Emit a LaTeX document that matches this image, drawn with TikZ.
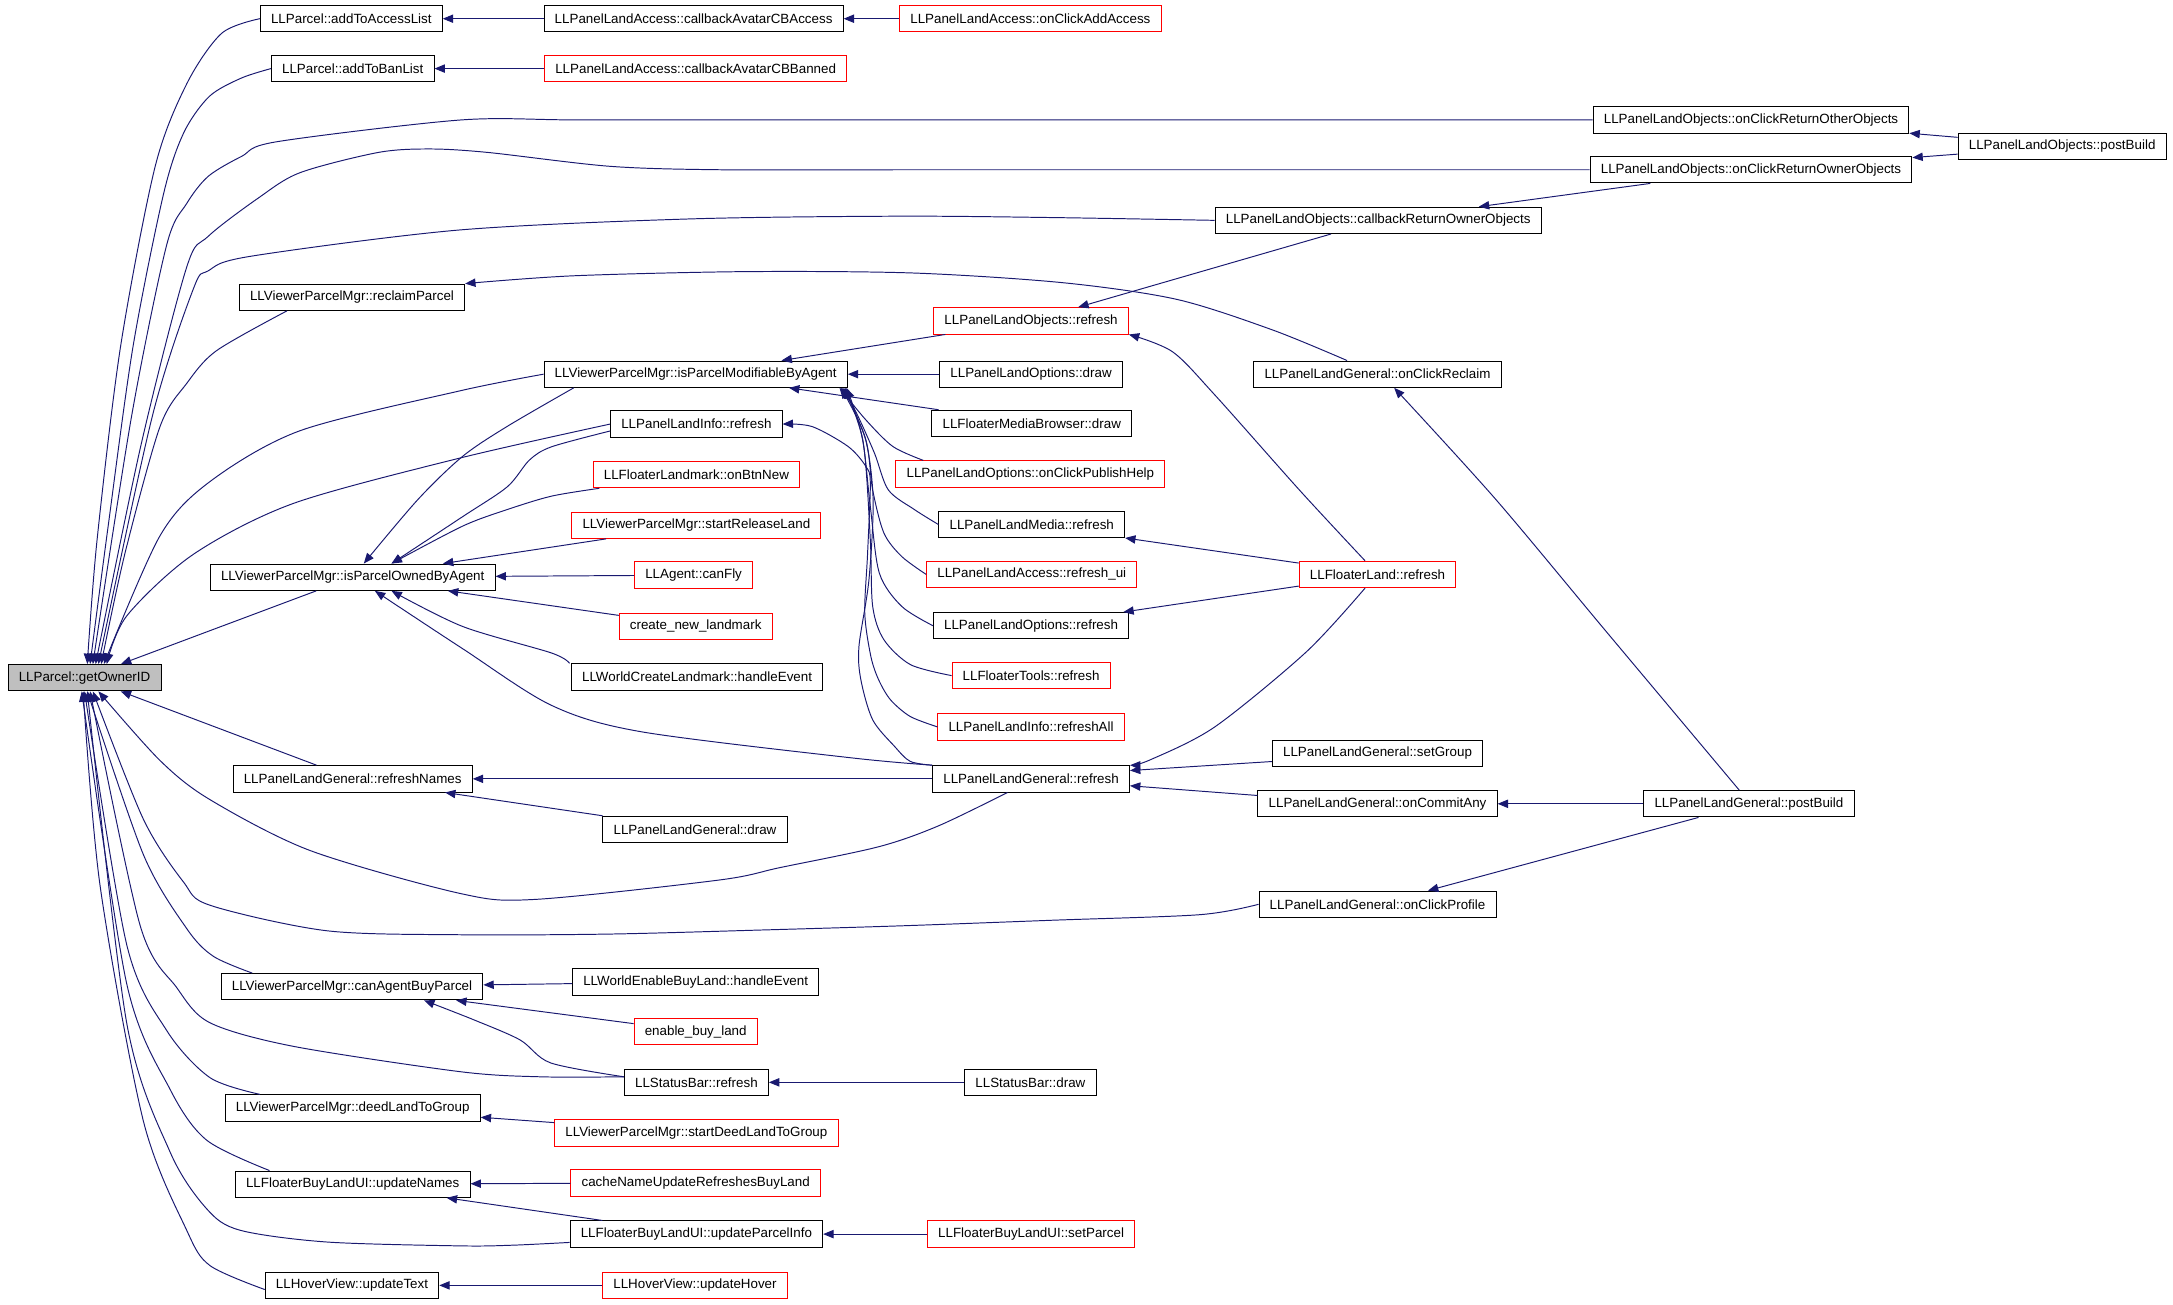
\documentclass[tikz,border=0pt]{standalone}
\usepackage{fontspec}
\setmainfont{Liberation Sans}
\usepackage{tikz}
\usetikzlibrary{arrows.meta}
\definecolor{edgeblue}{rgb}{0.1, 0.1, 0.44}
\definecolor{nodegray}{rgb}{0.75, 0.75, 0.75}

\begin{document}
\begin{tikzpicture}[x=1pt, y=-1pt,
  func/.style={draw=black, line width=0.7pt, rectangle, minimum height=19pt, inner xsep=7.7pt, inner ysep=0pt, font=\fontsize{9.65}{11}\selectfont},
  funcred/.style={func, draw=red},
  calls/.style={draw=edgeblue, line width=0.7pt, -{Triangle[length=7.5pt,width=6pt]}}]
\useasboundingbox (0,0) rectangle (1568,941);

% the function itself
\node[func, fill=nodegray] (own) at (61,489) {LLParcel::getOwnerID};

% first column of callers
\node[func] (accl) at (253.5,13.5) {LLParcel::addToAccessList};
\node[func] (banl) at (254.5,49.5) {LLParcel::addToBanList};
\node[func] (rp) at (254,214.5) {LLViewerParcelMgr::reclaimParcel};
\node[func] (isOwned) at (254.5,416.5) {LLViewerParcelMgr::isParcelOwnedByAgent};
\node[func] (rn) at (254.5,562) {LLPanelLandGeneral::refreshNames};
\node[func] (cab) at (254,712) {LLViewerParcelMgr::canAgentBuyParcel};
\node[func] (dl) at (254.5,799.5) {LLViewerParcelMgr::deedLandToGroup};
\node[func] (un) at (254.5,854.5) {LLFloaterBuyLandUI::updateNames};
\node[func] (ut) at (254,927.5) {LLHoverView::updateText};

% second column
\node[func] (cba) at (500.5,13.5) {LLPanelLandAccess::callbackAvatarCBAccess};
\node[funcred] (cbb) at (502,49.5) {LLPanelLandAccess::callbackAvatarCBBanned};
\node[func] (isMod) at (502,270) {LLViewerParcelMgr::isParcelModifiableByAgent};
\node[func] (li) at (502.5,306) {LLPanelLandInfo::refresh};
\node[funcred] (obn) at (502.5,342.5) {LLFloaterLandmark::onBtnNew};
\node[funcred] (srl) at (502.5,379) {LLViewerParcelMgr::startReleaseLand};
\node[funcred] (fly) at (500.5,415) {LLAgent::canFly};
\node[funcred] (cnl) at (502,452) {create\_new\_landmark};
\node[func] (wcl) at (503,488.5) {LLWorldCreateLandmark::handleEvent};
\node[func] (lgd) at (501.5,598.5) {LLPanelLandGeneral::draw};
\node[func] (webl) at (502,708.5) {LLWorldEnableBuyLand::handleEvent};
\node[funcred] (ebl) at (502,744.5) {enable\_buy\_land};
\node[func] (sbr) at (502.5,781) {LLStatusBar::refresh};
\node[funcred] (sdl) at (502.5,817.5) {LLViewerParcelMgr::startDeedLandToGroup};
\node[funcred] (cnu) at (502,853.5) {cacheNameUpdateRefreshesBuyLand};
\node[func] (upi) at (502.5,890.5) {LLFloaterBuyLandUI::updateParcelInfo};
\node[funcred] (uh) at (501.5,927.5) {LLHoverView::updateHover};

% third column
\node[funcred] (aca) at (743.5,13.5) {LLPanelLandAccess::onClickAddAccess};
\node[funcred] (lor) at (744,231.5) {LLPanelLandObjects::refresh};
\node[func] (lod) at (744,270) {LLPanelLandOptions::draw};
\node[func] (fmb) at (744.5,305.5) {LLFloaterMediaBrowser::draw};
\node[funcred] (ph) at (743.5,342) {LLPanelLandOptions::onClickPublishHelp};
\node[func] (lmr) at (744.5,378.5) {LLPanelLandMedia::refresh};
\node[funcred] (rui) at (744.5,414.5) {LLPanelLandAccess::refresh\_ui};
\node[func] (lop) at (744,451.5) {LLPanelLandOptions::refresh};
\node[funcred] (ftr) at (744,487.5) {LLFloaterTools::refresh};
\node[funcred] (lia) at (744,524.5) {LLPanelLandInfo::refreshAll};
\node[func] (lgr) at (744,562) {LLPanelLandGeneral::refresh};
\node[func] (sbd) at (743.5,781) {LLStatusBar::draw};
\node[funcred] (sp) at (744,890.5) {LLFloaterBuyLandUI::setParcel};

% fourth column
\node[func] (cbro) at (994.5,159) {LLPanelLandObjects::callbackReturnOwnerObjects};
\node[func] (ocr) at (994,270) {LLPanelLandGeneral::onClickReclaim};
\node[funcred] (fl) at (994,414.5) {LLFloaterLand::refresh};
\node[func] (sg) at (994,543.5) {LLPanelLandGeneral::setGroup};
\node[func] (oca) at (994,580) {LLPanelLandGeneral::onCommitAny};
\node[func] (ocp) at (994,652.5) {LLPanelLandGeneral::onClickProfile};

% fifth and sixth column
\node[func] (rto) at (1263.5,86.5) {LLPanelLandObjects::onClickReturnOtherObjects};
\node[func] (rtw) at (1263.5,122.5) {LLPanelLandObjects::onClickReturnOwnerObjects};
\node[func] (lgp) at (1262,580) {LLPanelLandGeneral::postBuild};
\node[func] (lobp) at (1488,105.5) {LLPanelLandObjects::postBuild};

% calls into getOwnerID from above
\draw[calls] plot[smooth] coordinates {(accl.west) (160,24) (135,60) (112,120) (87,250) (70,390) ([xshift=2pt]own.north)};
\draw[calls] plot[smooth] coordinates {(banl.west) (174,56.4) (151,69.6) (132.5,96) (118,140) (96,250) (78,380) ([xshift=4pt]own.north)};
\draw[calls] plot[smooth] coordinates {(rto.west) (800,86.5) (550,86.5) (414,86.5) (332,86.6) (199.6,102.3) (174.4,112.8) (150.3,127.2) (134.7,146.9) (120.2,177) (95,300) ([xshift=6pt]own.north)};
\draw[calls] plot[smooth] coordinates {(rtw.west) (850,122.5) (650,122.5) (520,122.5) (440,120) (352,110) (310,107.5) (273,110) (216.5,124.6) (186.4,142.9) (150.3,170.5) (134.7,192.8) (102,320) ([xshift=8pt]own.north)};
\draw[calls] plot[smooth] coordinates {(cbro.west) (760,157) (649,156) (497,158) (331,166) (180.4,185) (150.3,195.4) (139.5,208.5) (110,300) ([xshift=10pt]own.north)};
\draw[calls] plot[smooth] coordinates {([xshift=-47pt]rp.south) (156.3,253) (134.7,276.7) (115.4,308) (90,400) ([xshift=12pt]own.north)};
\draw[calls] plot[smooth] coordinates {(isMod.west) (332,282) (216.5,310.8) (151.5,347.5) (115.4,386.7) ([xshift=14pt]own.north)};
\draw[calls] plot[smooth] coordinates {(li.west) (332,330.5) (211.6,363.3) (139.5,400) (91.4,444.5) ([xshift=16pt]own.north)};
\draw[calls] (isOwned) -- (own);

% calls into getOwnerID from below
\draw[calls] (rn) -- (own);
\draw[calls] plot[smooth] coordinates {([xshift=-17pt]lgr.south) (677,596) (634,611) (563,626) (519,635) (386,649) (332,644.7) (223.7,613.7) (151.5,577) (115.4,548.7) ([xshift=10pt]own.south)};
\draw[calls] plot[smooth] coordinates {(ocp.west) (866,660) (760,664) (652,668) (552,671) (440,674) (332,674.5) (235.7,671.6) (151.5,653.2) (132.3,636.3) (103.4,591) ([xshift=6pt]own.south)};
\draw[calls] plot[smooth] coordinates {([xshift=-72pt]cab.north) (153.9,690) (134.7,670) (103.4,616.5) ([xshift=2pt]own.south)};
\draw[calls] plot[smooth] coordinates {([yshift=4pt]sbr.west) (390,777) (332,773.3) (211.6,755) (151.5,738) (127.5,712.6) (101,667.4) ([xshift=4pt]own.south)};
\draw[calls] plot[smooth] coordinates {([xshift=-67pt]dl.north) (151.5,777.6) (120.3,743.6) (91.4,681.5) (own.south)};
\draw[calls] plot[smooth] coordinates {([xshift=-60pt]un.north) (149.1,822.7) (122.7,786) (91.4,709.7) ([xshift=-2pt]own.south)};
\draw[calls] plot[smooth] coordinates {([yshift=-6pt]upi.west) (370,898.5) (332,899) (235.7,896.2) (173.2,887.7) (149.1,872.2) (122.7,831.2) (91.4,738) ([xshift=2pt]own.south)};
\draw[calls] plot[smooth] coordinates {([yshift=-3pt]ut.west) (151.5,913.2) (134.7,887.7) (103.4,808.7) (72.2,639) ([xshift=-1pt]own.south)};

% top rows
\draw[calls] (cba) -- (accl);
\draw[calls] (aca) -- (cba);
\draw[calls] (cbb) -- (banl);
\draw[calls] (lobp) -- (rto);
\draw[calls] (lobp) -- (rtw);
\draw[calls] (rtw) -- (cbro);
\draw[calls] (cbro) -- (lor);
\draw[calls] plot[smooth] coordinates {([xshift=-22pt]ocr.north) (918,238) (849,216) (767,204) (659,197) (538,196) (414,199) (rp.north east)};
\draw[calls] plot[smooth] coordinates {([xshift=-7pt]lgp.north) (1159,455.7) (1079,360) ([xshift=12pt]ocr.south)};

% calls into isParcelModifiableByAgent
\draw[calls] (lor) -- (isMod);
\draw[calls] (lod) -- (isMod);
\draw[calls] (fmb) -- (isMod);
\draw[calls] plot[smooth] coordinates {([xshift=20pt]ph.north west) (644.3,322.2) (624.8,303) ([xshift=-6pt]isMod.south east)};
\draw[calls] plot[smooth] coordinates {(lmr.west) (660,367.8) (641,353.5) (631,327) (618,298) ([xshift=-4pt]isMod.south east)};
\draw[calls] plot[smooth] coordinates {(rui.west) (650.6,401.5) (637.8,384.6) (629.7,353.5) (624.8,317.5) ([xshift=-3pt]isMod.south east)};
\draw[calls] plot[smooth] coordinates {(lop.west) (650.6,437.5) (634.5,413.5) (628,365.5) (622,315) ([xshift=-2pt]isMod.south east)};
\draw[calls] plot[smooth] coordinates {(ftr.west) (657,479.6) (637.8,461.6) (629.7,437.5) (628,389.5) (623,320) ([xshift=-1pt]isMod.south east)};
\draw[calls] plot[smooth] coordinates {(lgr.north west) (656.8,549.4) (645.5,538.6) (629.7,519.4) (621.2,490.6) (619.8,466.5) (627,418.5) (630,360) (624,315) ([xshift=-5pt]isMod.south east)};
\draw[calls] plot[smooth] coordinates {(lia.west) (656.8,517) (642.6,505) (634,490.5) (628.4,473.7) (624,442.5) (626,400) (628,348.6) (624.8,336.6) (612,322.2) (586,307.8) (li.east)};

% calls into isParcelOwnedByAgent
\draw[calls] plot[smooth] coordinates {([xshift=-88pt]isMod.south) (365.8,307.8) (333.7,329.4) (301.4,360.6) ([xshift=8pt]isOwned.north)};
\draw[calls] plot[smooth] coordinates {([yshift=-5pt]li.west) (398,322.4) (382,332) (366,351.3) (333.7,372.9) ([xshift=28pt]isOwned.north)};
\draw[calls] plot[smooth] coordinates {([xshift=-70pt]obn.south) (398,358) (366,367.7) (333.7,379.7) ([xshift=28pt]isOwned.north)};
\draw[calls] (srl) -- (isOwned);
\draw[calls] (fly) -- (isOwned);
\draw[calls] (cnl) -- (isOwned);
\draw[calls] plot[smooth] coordinates {([xshift=-92pt]wcl.north) (398,471.2) (333.7,452) ([xshift=28pt]isOwned.south)};
\draw[calls] plot[smooth] coordinates {(lgr.north west) (613,546.7) (462.6,528) (398,509) (333.7,468) ([xshift=16pt]isOwned.south)};

% LLFloaterLand and LLPanelLandGeneral
\draw[calls] plot[smooth] coordinates {([xshift=-9pt]fl.north) (938,354) (876.6,285) (846,253.8) (lor.south east)};
\draw[calls] (fl) -- (lmr);
\draw[calls] (fl) -- (lop);
\draw[calls] plot[smooth] coordinates {([xshift=-9pt]fl.south) (942.6,470.4) (876.6,524.5) (829.7,548.4) (lgr.north east)};
\draw[calls] ([yshift=-6pt]sg.west) -- ([yshift=6pt]lgr.east);
\draw[calls] ([yshift=6pt]oca.west) -- ([yshift=-5pt]lgr.east);
\draw[calls] (lgp) -- (oca);
\draw[calls] (lgp) -- (ocp);
\draw[calls] (lgr) -- (rn);
\draw[calls] (lgd) -- (rn);

% lower rows
\draw[calls] (webl) -- (cab);
\draw[calls] (ebl) -- (cab);
\draw[calls] plot[smooth] coordinates {([yshift=4pt]sbr.west) (397.4,767) (375.3,750.4) (342.2,736) ([xshift=52pt]cab.south)};
\draw[calls] (sbd) -- (sbr);
\draw[calls] (sdl) -- (dl);
\draw[calls] (cnu) -- (un);
\draw[calls] (upi) -- (un);
\draw[calls] (sp) -- (upi);
\draw[calls] (uh) -- (ut);
\end{tikzpicture}
\end{document}
